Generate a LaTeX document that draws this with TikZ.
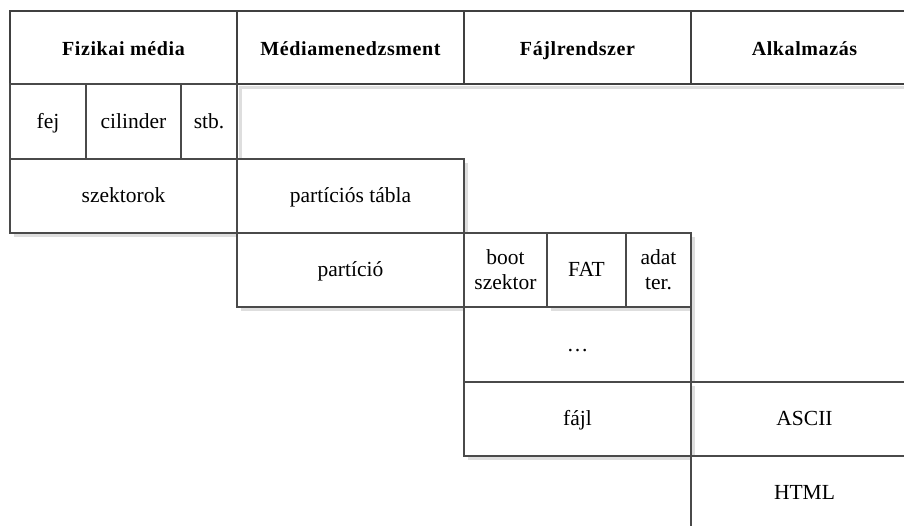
\documentclass[tikz,border=0pt]{standalone}
\usepackage{fontspec}
\setmainfont{Liberation Serif}
\newfontfamily\hdrfont[LetterSpace=3]{Liberation Serif}
\definecolor{linegray}{HTML}{4A4A4A}
\definecolor{headgray}{HTML}{404040}
\definecolor{shadowgray}{HTML}{DEDEDE}
\begin{document}
\begin{tikzpicture}[x=1pt,y=-1pt,
  cell/.style={draw=linegray, line width=1.2pt, fill=white, anchor=north west,
    inner sep=0pt, outer sep=0pt, align=center,
    font=\fontsize{21.5}{25}\selectfont},
  oneline/.style={text height=14.5pt, text depth=1pt},
  head/.style={cell, oneline, draw=headgray, line width=2.6pt,
    text height=16pt, text depth=1pt,
    font=\hdrfont\bfseries\fontsize{20}{24}\selectfont},
  shade/.style={fill=shadowgray, draw=none}]
\useasboundingbox (0,0) rectangle (904,525);
\begin{scope}
\clip (0,0) rectangle (904,525);

% layer headers
\node[head, minimum width=227pt, minimum height=73pt] (hdrPhys)  at (10,11)  {Fizikai média};
\node[head, minimum width=227pt, minimum height=73pt] (hdrMedia) at (237,11) {Médiamenedzsment};
\node[head, minimum width=227pt, minimum height=73pt] (hdrFs)    at (464,11) {Fájlrendszer};
\node[head, minimum width=227pt, minimum height=73pt] (hdrApp)   at (691,11) {Alkalmazás};

% physical media
\node[cell, oneline, minimum width=76pt, minimum height=75pt] (fej) at (10,84)  {fej};
\node[cell, oneline, minimum width=95pt, minimum height=75pt] (cil) at (86,84)  {cilinder};
\node[cell, oneline, minimum width=56pt, minimum height=75pt] (stb) at (181,84) {stb.};
\node[cell, oneline, minimum width=227pt, minimum height=74pt] (szek) at (10,159) {szektorok};

% media management
\node[cell, oneline, minimum width=227pt, minimum height=74pt] (ptab) at (237,159) {partíciós tábla};
\node[cell, oneline, minimum width=227pt, minimum height=74pt] (part) at (237,233) {partíció};

% file system
\node[cell, minimum width=83pt, minimum height=74pt] (boot) at (464,233) {boot\\szektor};
\node[cell, oneline, minimum width=79pt, minimum height=74pt] (fat)  at (547,233) {FAT};
\node[cell, minimum width=65pt, minimum height=74pt] (adat) at (626,233) {adat\\ter.};
\node[cell, oneline, minimum width=227pt, minimum height=75pt] (dots) at (464,307) {\dots};
\node[cell, oneline, minimum width=227pt, minimum height=74pt] (fajl) at (464,382) {fájl};

% application
\node[cell, oneline, minimum width=227pt, minimum height=74pt] (ascii) at (691,382) {ASCII};
\node[cell, oneline, minimum width=227pt, minimum height=74pt] (html)  at (691,456) {HTML};

% drop shadows
\fill[shade] (239,86) rectangle (904,89);
\fill[shade] (238.6,89) rectangle (241.5,158.4);
\fill[shade] (14,233.8) rectangle (236.4,237);
\fill[shade] (464.8,163) rectangle (468,232.4);
\fill[shade] (241,307.8) rectangle (463.4,311);
\fill[shade] (551,307.8) rectangle (690.4,311);
\fill[shade] (691.8,237) rectangle (695,381.4);
\fill[shade] (691.8,386) rectangle (695,455.4);
\fill[shade] (468,456.8) rectangle (690.4,460);
\end{scope}
\end{tikzpicture}
\end{document}
